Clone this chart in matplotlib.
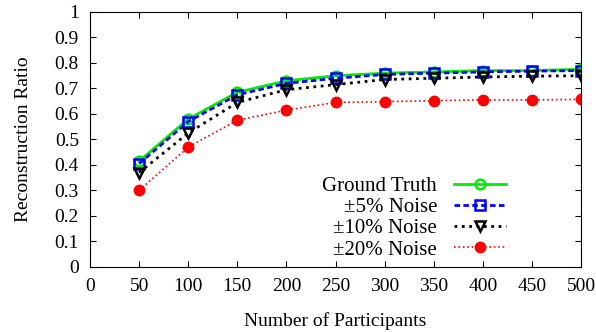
import matplotlib.pyplot as plt

plt.rcParams['font.family'] = ['Liberation Serif', 'DejaVu Serif']
plt.rcParams['font.size'] = 14

participants = [50, 100, 150, 200, 250, 300, 350, 400, 450, 500]
ground_truth = [0.415, 0.58, 0.685, 0.73, 0.75, 0.76, 0.765, 0.77, 0.77, 0.775]
noise5 = [0.405, 0.57, 0.675, 0.72, 0.74, 0.755, 0.76, 0.765, 0.768, 0.77]
noise10 = [0.37, 0.525, 0.645, 0.695, 0.715, 0.735, 0.74, 0.745, 0.748, 0.75]
noise20 = [0.30, 0.47, 0.575, 0.615, 0.645, 0.648, 0.652, 0.655, 0.655, 0.657]

fig = plt.figure(figsize=(5.96, 3.32), dpi=100)
ax = fig.add_axes([0.151, 0.196, 0.824, 0.768])

ax.plot(participants, ground_truth, "-o", color="#00ee00", lw=2, ms=7,
        mfc="none", mew=1.8, label="Ground Truth")
ax.plot(participants, noise5, "--s", color="#0000ff", lw=2, ms=7.5,
        mfc="none", mew=1.8, dashes=(2, 1.2), label="±5% Noise")
ax.plot(participants, noise10, ":v", color="black", lw=2, ms=7.5,
        mfc="none", mew=1.8, label="±10% Noise")
ax.plot(participants, noise20, ":o", color="red", lw=1.2, ms=7.5,
        label="±20% Noise")

ax.set_xlim(0, 500)
ax.set_ylim(0, 1)
ax.set_xticks(range(0, 501, 50))
ax.set_yticks([i / 10 for i in range(11)])
ax.set_yticklabels(["0", "0.1", "0.2", "0.3", "0.4", "0.5", "0.6", "0.7", "0.8", "0.9", "1"])
ax.tick_params(direction="in", top=True, right=True, length=4, pad=8)
ax.set_xlabel("Number of Participants", labelpad=12)
ax.set_ylabel("Reconstruction Ratio", labelpad=16)

ax.legend(loc="lower right", bbox_to_anchor=(0.885, -0.045), frameon=False,
          markerfirst=False, handlelength=2.5, labelspacing=0.08,
          handletextpad=0.8, fontsize=15)

plt.savefig("out.png", dpi=100)
